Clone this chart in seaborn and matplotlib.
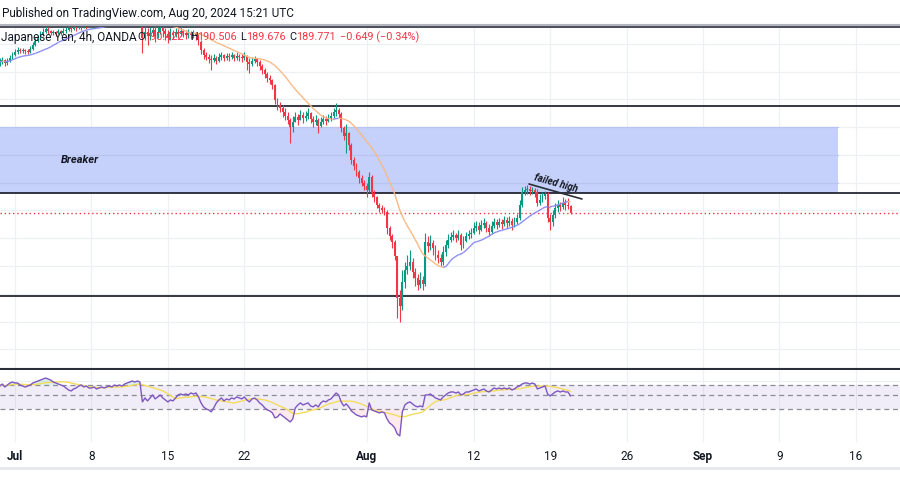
import numpy as np
import pandas as pd
import matplotlib
matplotlib.use("Agg")
import matplotlib.pyplot as plt
import seaborn as sns
from matplotlib.collections import LineCollection
from matplotlib.lines import Line2D
from matplotlib.ticker import NullLocator

sns.set_style("white")
plt.rcParams['font.family'] = ['Roboto', 'DejaVu Sans']

# GBP/JPY 4h candles (one value per bar, open = previous close)
first_open = 203.18
closes = [
    203.36, 203.54, 203.27, 203.45, 203.72, 203.99, 204.26, 204.44, 204.35, 204.44,
    204.35, 204.26, 204.53, 204.89, 205.25, 205.52, 205.79, 206.06, 206.33, 206.15,
    205.97, 206.06, 205.97, 206.15, 205.97, 206.15, 206.24, 206.42, 206.33, 206.51,
    206.42, 206.60, 206.51, 206.69, 206.60, 206.78, 206.69, 206.78, 206.87, 206.78,
    206.96, 206.87, 207.05, 207.23, 207.14, 207.32, 207.41, 207.50, 207.41, 207.59,
    207.68, 207.77, 207.86, 207.77, 207.86, 207.68, 205.52, 206.06, 205.70, 205.97,
    206.24, 205.79, 206.06, 206.42, 206.15, 205.88, 205.61, 205.97, 205.79, 206.06,
    205.88, 206.15, 205.97, 205.79, 205.97, 205.79, 205.88, 205.70, 205.16, 204.44,
    203.99, 203.81, 203.63, 203.54, 203.72, 203.45, 203.81, 203.99, 203.72, 203.90,
    203.81, 203.99, 203.72, 203.90, 203.81, 203.72, 203.90, 203.36, 203.18, 203.45,
    203.63, 203.36, 203.00, 202.64, 202.28, 201.92, 201.74, 201.29, 199.94, 199.49,
    199.22, 198.86, 198.50, 198.14, 197.51, 197.96, 198.41, 198.14, 198.59, 198.32,
    198.50, 198.77, 198.23, 197.96, 198.14, 197.60, 197.96, 198.23, 198.05, 198.32,
    198.50, 198.86, 199.04, 198.68, 197.42, 196.70, 196.97, 195.89, 194.54, 194.00,
    193.46, 192.92, 192.47, 192.20, 191.84, 193.01, 191.57, 191.21, 190.49, 190.22,
    190.04, 189.86, 188.42, 187.70, 187.16, 185.90, 182.12, 181.40, 183.56, 184.64,
    185.00, 185.36, 184.46, 183.92, 183.29, 183.74, 183.38, 187.16, 186.80, 187.07,
    186.62, 185.99, 185.72, 185.36, 186.26, 186.89, 187.34, 187.61, 187.79, 187.52,
    187.79, 186.89, 187.25, 187.70, 187.88, 187.97, 188.42, 188.60, 188.24, 188.69,
    188.87, 188.42, 188.06, 188.60, 188.96, 188.69, 188.96, 188.78, 189.14, 188.87,
    189.05, 188.69, 188.96, 189.32, 190.49, 191.66, 191.84, 191.93, 191.75, 191.84,
    191.66, 190.67, 190.94, 191.30, 191.48, 189.32, 188.96, 189.59, 190.22, 190.49,
    190.31, 190.67, 190.49, 190.422, 189.771,
]
highs = [
    203.72, 203.81, 203.63, 203.72, 203.99, 204.26, 204.53, 204.71, 204.62, 204.62,
    204.53, 204.53, 204.80, 205.16, 205.52, 205.79, 206.15, 206.42, 206.60, 206.51,
    206.24, 206.24, 206.15, 206.33, 206.24, 206.42, 206.51, 206.69, 206.60, 206.78,
    206.69, 206.87, 206.78, 206.96, 206.87, 207.05, 206.96, 207.05, 207.14, 207.05,
    207.23, 207.14, 207.32, 207.50, 207.41, 207.59, 207.68, 207.77, 207.68, 207.86,
    207.95, 208.04, 208.13, 208.04, 208.13, 208.04, 207.86, 206.69, 206.42, 206.51,
    206.96, 206.69, 206.60, 207.14, 206.78, 206.42, 206.24, 206.42, 206.24, 206.42,
    206.33, 206.51, 206.33, 206.24, 206.33, 206.15, 206.24, 206.06, 205.88, 205.34,
    204.62, 204.26, 204.08, 203.99, 204.08, 203.90, 204.17, 204.26, 204.08, 204.17,
    204.17, 204.26, 204.08, 204.26, 204.08, 204.08, 204.26, 203.99, 203.72, 203.81,
    203.90, 203.72, 203.54, 203.18, 202.82, 202.46, 202.19, 201.83, 201.38, 200.12,
    199.76, 199.49, 199.22, 198.86, 198.32, 198.50, 198.86, 198.68, 199.04, 198.86,
    198.95, 199.22, 198.86, 198.50, 198.59, 198.32, 198.41, 198.59, 198.50, 198.68,
    198.86, 199.22, 199.67, 199.22, 198.86, 197.60, 197.78, 197.06, 196.07, 194.81,
    194.27, 193.64, 193.19, 192.74, 192.47, 193.46, 193.19, 191.84, 191.30, 190.67,
    190.49, 190.31, 190.04, 188.60, 187.88, 187.34, 185.90, 182.84, 184.64, 185.36,
    185.99, 186.44, 185.72, 184.82, 184.28, 184.46, 184.10, 187.97, 187.70, 187.79,
    187.34, 186.89, 186.44, 186.08, 186.80, 187.34, 187.88, 188.06, 188.24, 187.97,
    188.24, 187.97, 187.70, 188.06, 188.24, 188.42, 188.96, 189.05, 188.96, 189.14,
    189.32, 189.05, 188.78, 189.05, 189.32, 189.23, 189.32, 189.23, 189.50, 189.41,
    189.50, 189.32, 189.41, 189.68, 190.94, 192.11, 192.20, 192.29, 192.20, 192.11,
    192.02, 191.93, 191.48, 191.66, 191.75, 191.66, 189.68, 190.04, 190.67, 190.94,
    190.76, 191.21, 191.03, 191.12, 190.506,
]
lows = [
    203.00, 203.18, 203.00, 203.09, 203.36, 203.63, 203.90, 204.08, 204.17, 204.17,
    204.08, 204.08, 204.17, 204.44, 204.80, 205.16, 205.43, 205.70, 205.97, 205.88,
    205.79, 205.79, 205.70, 205.88, 205.79, 205.88, 205.97, 206.15, 206.06, 206.24,
    206.15, 206.33, 206.24, 206.42, 206.33, 206.51, 206.42, 206.51, 206.60, 206.51,
    206.69, 206.60, 206.78, 206.96, 206.87, 207.05, 207.14, 207.23, 207.14, 207.32,
    207.41, 207.50, 207.59, 207.50, 207.50, 207.32, 204.17, 205.34, 204.89, 205.34,
    205.70, 205.16, 205.52, 205.88, 205.61, 205.34, 205.07, 205.34, 205.43, 205.61,
    205.52, 205.70, 205.61, 205.43, 205.52, 205.43, 205.52, 205.34, 204.89, 204.08,
    203.63, 203.54, 203.27, 202.64, 203.36, 203.18, 203.36, 203.54, 203.45, 203.54,
    203.45, 203.63, 203.45, 203.54, 203.45, 203.36, 203.54, 202.64, 202.37, 203.00,
    203.27, 203.00, 202.64, 202.28, 201.92, 201.56, 201.38, 200.93, 199.58, 199.04,
    198.86, 198.41, 198.14, 197.78, 196.07, 197.06, 197.96, 197.69, 198.14, 197.87,
    198.05, 198.23, 197.87, 197.51, 197.69, 196.97, 197.51, 197.78, 197.69, 197.96,
    198.05, 198.32, 198.50, 198.32, 197.06, 196.34, 195.17, 195.44, 194.18, 193.64,
    193.10, 192.47, 192.20, 191.84, 191.21, 191.66, 191.21, 190.76, 190.22, 189.86,
    189.77, 189.59, 187.88, 187.34, 186.62, 185.54, 180.32, 179.96, 181.04, 183.02,
    184.28, 184.64, 183.92, 183.20, 182.84, 183.02, 182.84, 183.20, 186.26, 186.44,
    185.99, 185.54, 185.27, 185.00, 185.09, 185.90, 186.62, 187.16, 187.34, 187.16,
    187.34, 186.44, 186.62, 187.16, 187.43, 187.52, 187.88, 188.15, 187.88, 188.15,
    188.42, 188.06, 187.70, 187.88, 188.42, 188.33, 188.51, 188.33, 188.60, 188.42,
    188.60, 188.24, 188.51, 188.78, 189.14, 190.31, 191.39, 191.48, 191.39, 191.48,
    191.21, 190.40, 190.49, 190.76, 191.03, 188.96, 188.24, 188.60, 189.32, 189.86,
    189.95, 190.13, 190.04, 190.13, 189.676,
]

# RSI(14) values per bar
rsi = [
    67.6, 72.5, 65.2, 70.0, 75.1, 77.8, 75.1, 75.1, 70.0, 67.6,
    65.2, 67.6, 70.0, 75.1, 77.8, 80.6, 83.5, 86.5, 89.6, 86.5,
    83.5, 77.8, 75.1, 72.5, 70.0, 67.6, 63.0, 58.7, 56.7, 60.8,
    63.0, 67.6, 70.0, 65.2, 67.6, 63.0, 63.0, 65.2, 60.8, 63.0,
    65.2, 63.0, 65.2, 67.6, 65.2, 70.0, 67.6, 70.0, 67.6, 72.5,
    75.1, 77.8, 80.6, 77.8, 80.6, 77.8, 38.5, 44.3, 39.9, 44.3,
    49.2, 42.8, 45.9, 49.2, 44.3, 41.3, 38.5, 41.3, 39.9, 44.3,
    49.2, 51.0, 49.2, 51.0, 49.2, 52.8, 51.0, 52.8, 45.9, 37.2,
    32.3, 30.1, 29.0, 27.1, 31.2, 37.2, 41.3, 44.3, 39.9, 42.8,
    41.3, 44.3, 42.8, 45.9, 44.3, 42.8, 45.9, 41.3, 38.5, 42.8,
    44.3, 41.3, 37.2, 34.6, 31.2, 29.0, 28.0, 26.1, 21.9, 22.7,
    25.2, 23.5, 21.9, 20.4, 19.0, 21.1, 31.2, 34.6, 37.2, 34.6,
    35.9, 37.2, 33.4, 32.3, 34.6, 32.3, 37.2, 39.9, 38.5, 41.3,
    42.8, 47.5, 52.8, 49.2, 38.5, 33.4, 35.9, 32.3, 28.0, 26.1,
    24.3, 23.5, 22.7, 23.5, 22.7, 37.2, 29.0, 28.0, 27.1, 26.1,
    27.1, 26.1, 21.1, 18.3, 17.1, 15.4, 12.4, 11.6, 27.1, 34.6,
    37.2, 38.5, 35.9, 33.4, 32.3, 33.4, 32.3, 49.2, 49.2, 51.0,
    47.5, 44.3, 42.8, 41.3, 45.9, 49.2, 52.8, 54.7, 54.7, 52.8,
    54.7, 49.2, 51.0, 54.7, 54.7, 56.7, 58.7, 60.8, 56.7, 58.7,
    60.8, 56.7, 54.7, 58.7, 63.0, 60.8, 63.0, 60.8, 63.0, 60.8,
    63.0, 58.7, 60.8, 65.2, 67.6, 72.5, 75.1, 75.1, 72.5, 75.1,
    72.5, 60.8, 63.0, 65.2, 67.6, 51.0, 47.5, 51.0, 54.7, 56.7,
    54.7, 56.7, 54.7, 54.7, 47.5,
]

# drawn levels / annotations
levels = [199.40, 191.55, 182.30]
breaker_zone = [191.55, 197.51]
breaker_end_bar = 329
failed_x = [207.7, 228.5]
failed_y = [192.38, 191.03]
last_price = 189.771
change = -0.649
change_pct = -0.34

# x axis: bar 6 = first bar of Jul 1, six 4h bars per trading day
tick_days = [0, 5, 10, 15, 23, 30, 35, 40, 45, 50, 55]
tick_labels = ["Jul", "8", "15", "22", "Aug", "12", "19", "26", "Sep", "9", "16"]
months = {"Jul", "Aug", "Sep"}

GREEN = "#089981"
RED = "#f23645"
TXT = "#131722"
GRID = "#eef0f4"

df = pd.DataFrame({"close": closes, "high": highs, "low": lows})
df["open"] = [first_open] + closes[:-1]
df["bar"] = np.arange(len(df))
df["up"] = df["close"] >= df["open"]
df["ma"] = df["close"].rolling(20, min_periods=1).mean()
df["rsi"] = rsi
df["rsi_ma"] = df["rsi"].rolling(14, min_periods=1).mean()

tick_pos = [6 + 6 * d for d in tick_days]
xlim = (0.11, 353.3)

fig = plt.figure(figsize=(9, 5), dpi=100, facecolor="white")
ax1 = fig.add_axes([0, 1 - 369 / 500, 1, 342 / 500])
ax2 = fig.add_axes([0, 1 - 442 / 500, 1, 72 / 500])

# ---- price pane ----
ax1.set_xlim(*xlim)
ax1.set_ylim(175.73, 206.51)
for p in np.arange(177.5, 206, 2.5):
    ax1.axhline(p, color=GRID, lw=0.9, zorder=0)
for t in tick_pos:
    ax1.axvline(t, color=GRID, lw=0.9, zorder=0)

ax1.fill_between([-10, breaker_end_bar], breaker_zone[0], breaker_zone[1],
                 color="#c5d1fb", lw=0, zorder=0.5)
for p in np.arange(177.5, 206, 2.5):
    if breaker_zone[0] < p < breaker_zone[1]:
        ax1.plot([-10, breaker_end_bar], [p, p], color="#b9c5ef", lw=0.9, zorder=0.6)

for lv in levels:
    ax1.axhline(lv, color=TXT, lw=1.2, zorder=2)
ax1.axhline(last_price, color=RED, lw=1.0, ls=(0, (1, 2)), zorder=2)

# candles
colors = np.where(df["up"], GREEN, RED)
ax1.vlines(df["bar"], df["low"], df["high"], colors=colors, lw=0.8, zorder=3)
body_lo = df[["open", "close"]].min(axis=1)
body_h = (df["close"] - df["open"]).abs().clip(lower=0.04)
ax1.bar(df["bar"], body_h, bottom=body_lo, width=0.75, color=colors, lw=0, zorder=4)

# moving average, blue while rising, orange while falling
pts = np.column_stack([df["bar"], df["ma"]])
segs = np.stack([pts[:-1], pts[1:]], axis=1)
seg_cols = np.where(np.diff(df["ma"]) >= 0, "#8a8ef4", "#f8b985")
ax1.add_collection(LineCollection(segs, colors=seg_cols, lw=1.0, zorder=5))

# failed high trend line + labels
ax1.plot(failed_x, failed_y, color="#2a2e39", lw=1.2, zorder=6)
ang = -15.8
ax1.text(np.mean(failed_x) - 0.5, np.mean(failed_y) + 0.35, "failed high", rotation=ang,
         rotation_mode="anchor", ha="center", va="bottom", fontsize=7,
         fontstyle="italic", fontweight="bold", color=TXT, zorder=7)
ax1.text(80 / 900, (369 - 160) / 342, "Breaker", transform=ax1.transAxes,
         ha="center", va="center", fontsize=8, fontstyle="italic",
         fontweight="bold", color=TXT, zorder=7)

for s in ["left", "right"]:
    ax1.spines[s].set_visible(False)
ax1.spines["top"].set_color("#2a2e39")
ax1.spines["top"].set_linewidth(1.2)
ax1.spines["bottom"].set_color("#2a2e39")
ax1.spines["bottom"].set_linewidth(1.5)
ax1.set_xticks([])
ax1.set_yticks([])

# ---- RSI pane ----
ax2.set_yscale("log")
ax2.set_xlim(*xlim)
ax2.set_ylim(9.35, 118.9)
for t in tick_pos:
    ax2.axvline(t, color=GRID, lw=0.9, zorder=0)
ax2.axhline(80, color=GRID, lw=0.9, zorder=0)
ax2.axhspan(30, 70, color="#7e57c2", alpha=0.1, lw=0, zorder=0.5)
for lv in [70, 50, 30]:
    ax2.axhline(lv, color="#8a8d96", lw=0.9, ls=(0, (4, 3)), zorder=1)
r = df["rsi"].values
ax2.fill_between(df["bar"], 70, r, where=r > 70, interpolate=True,
                 color=GREEN, alpha=0.15, lw=0, zorder=1.5)
ax2.fill_between(df["bar"], r, 30, where=r < 30, interpolate=True,
                 color=RED, alpha=0.10, lw=0, zorder=1.5)
sns.lineplot(x=df["bar"], y=df["rsi_ma"], color="#f5dc5a", lw=1.0, ax=ax2, zorder=2)
sns.lineplot(x=df["bar"], y=df["rsi"], color="#7e57c2", lw=1.0, ax=ax2, zorder=3)
ax2.set_xlabel("")
ax2.set_ylabel("")
ax2.yaxis.set_minor_locator(NullLocator())
ax2.set_yticks([])
for s in ax2.spines.values():
    s.set_visible(False)
ax2.set_xticks(tick_pos)
ax2.set_xticklabels(tick_labels)
ax2.tick_params(axis="x", length=0, pad=6, labelsize=8.5, labelcolor=TXT)
for lab in ax2.get_xticklabels():
    if lab.get_text() in months:
        lab.set_fontweight("bold")

# ---- header and legend text ----
fig.text(2 / 900, 1 - 13 / 500, "Published on TradingView.com, Aug 20, 2024 15:21 UTC",
         ha="left", va="center", fontsize=8.5, color=TXT)
row_y = 1 - 37 / 500
fig.text(1 / 900, row_y, "Japanese Yen, 4h, OANDA", ha="left", va="center",
         fontsize=8.5, color=TXT)
o, h, l, c = df["open"].iloc[-1], df["high"].iloc[-1], df["low"].iloc[-1], df["close"].iloc[-1]
pieces = [(137, "O", TXT), (144, f"{o:.3f}", RED), (190, "H", TXT), (197, f"{h:.3f}", RED),
          (240, "L", TXT), (246, f"{l:.3f}", RED), (289, "C", TXT), (296, f"{c:.3f}", RED),
          (340, f"\u2212{abs(change):.3f} (\u2212{abs(change_pct):.2f}%)", RED)]
for px, s, col in pieces:
    fig.text(px / 900, row_y, s, ha="left", va="center", fontsize=7.8, color=col)

fig.add_artist(Line2D([0, 1], [1 - 25 / 500] * 2, color="#b2b5be", lw=1.5))
fig.add_artist(Line2D([0, 1], [1 - 467.5 / 500] * 2, color="#e6e8ee", lw=2))

fig.savefig("out.png", dpi=100, facecolor="white")
